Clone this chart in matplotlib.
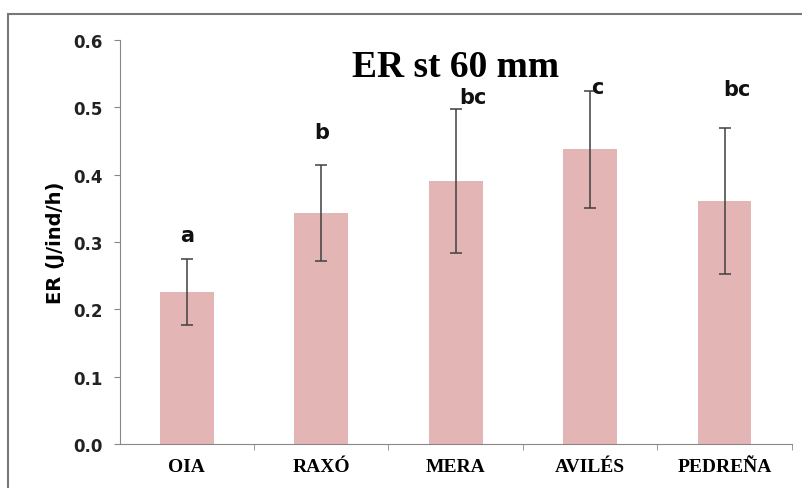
import matplotlib
matplotlib.use("Agg")
import matplotlib.pyplot as plt
from matplotlib.patches import Rectangle
from matplotlib.ticker import FixedLocator, NullFormatter

sites = ["OIA", "RAXÓ", "MERA", "AVILÉS", "PEDREÑA"]
er_mean = [0.226, 0.343, 0.391, 0.438, 0.361]
er_err = [0.049, 0.071, 0.107, 0.087, 0.109]
letters = ["a", "b", "bc", "c", "bc"]
letter_y = [0.31, 0.464, 0.516, 0.53, 0.527]
letter_dx = [0.0, 0.0, 0.13, 0.05, 0.09]

fig = plt.figure(figsize=(8.03, 4.89), dpi=100)
ax = fig.add_axes([0.149, 0.09, 0.837, 0.826])

x = list(range(len(sites)))
ax.bar(x, er_mean, width=0.4, color="#e4b5b5", zorder=2)
ax.errorbar(x, er_mean, yerr=er_err, fmt="none", ecolor="#404040",
            elinewidth=1.1, capsize=4, capthick=1.1, zorder=3)

for xi, lab, ly, dx in zip(x, letters, letter_y, letter_dx):
    ax.text(xi + dx, ly, lab, ha="center", va="center", fontsize=15,
            fontweight="bold", family="DejaVu Sans", color="#111111")

ax.set_xlim(-0.5, len(sites) - 0.5)
ax.set_ylim(0, 0.6)
ax.set_yticks([0.0, 0.1, 0.2, 0.3, 0.4, 0.5, 0.6])
ax.set_yticklabels([f"{v:.1f}" for v in ax.get_yticks()])
ax.set_xticks(x)
ax.set_xticklabels(sites, family="Liberation Serif", fontweight="bold", fontsize=14)
ax.xaxis.set_minor_locator(FixedLocator([i + 0.5 for i in range(len(sites))]))
ax.xaxis.set_minor_formatter(NullFormatter())
ax.tick_params(axis="x", which="major", length=0, pad=10)
ax.tick_params(axis="x", which="minor", length=4, color="#888888")
ax.tick_params(axis="y", length=4, color="#888888", pad=8)
for t in ax.get_yticklabels():
    t.set_fontweight("bold")
    t.set_fontsize(12)
    t.set_color("#222222")

ax.set_ylabel("ER (J/ind/h)", fontsize=14, fontweight="bold")
ax.yaxis.set_label_coords(-0.082, 0.5)
for s in ["top", "right"]:
    ax.spines[s].set_visible(False)
for s in ["left", "bottom"]:
    ax.spines[s].set_color("#888888")

fig.text(0.567, 0.862, "ER st 60 mm", ha="center", va="center",
         family="Liberation Serif", fontweight="bold", fontsize=27)

fig.patches.append(Rectangle((8 / 803, -0.01), 1.0, 1 - 15 / 489 + 0.01,
                             transform=fig.transFigure, fill=False,
                             edgecolor="#777777", linewidth=1.5))

fig.savefig("out.png", dpi=100)
